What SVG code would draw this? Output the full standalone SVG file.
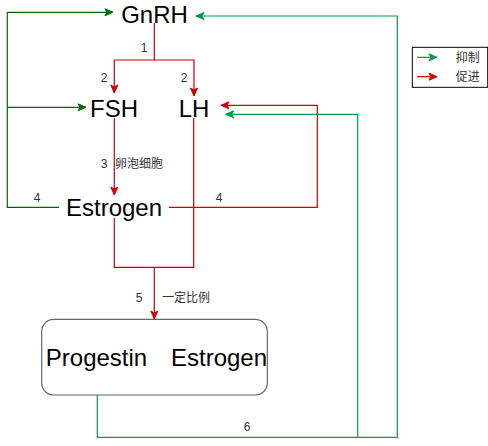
<svg xmlns="http://www.w3.org/2000/svg" width="488" height="446" viewBox="0 0 488 446">
<style>
.big{font-family:"Liberation Sans",Arial,sans-serif;font-size:24px;fill:#000;text-anchor:middle}
.sm{font-family:"Liberation Sans","Noto Sans CJK SC",sans-serif;font-size:12px;fill:#333;text-anchor:middle}
.lg{font-family:"Liberation Sans","Noto Sans CJK SC",sans-serif;font-size:12px;fill:#333}
.r{fill:none;stroke:#CC0000;stroke-width:1.2}
.g{fill:none;stroke:#006600;stroke-width:1.2}
.g2{fill:none;stroke:#00994D;stroke-width:1.2}
</style>
<defs>
<marker id="ar" markerUnits="userSpaceOnUse" markerWidth="10" markerHeight="10" viewBox="0 0 10 10" refX="9" refY="5" orient="auto"><path d="M1,1.5 L9,5 L1,8.5 L3,5 Z" fill="#CC0000" stroke="#CC0000"/></marker>
<marker id="ag" markerUnits="userSpaceOnUse" markerWidth="10" markerHeight="10" viewBox="0 0 10 10" refX="9" refY="5" orient="auto"><path d="M1,1.5 L9,5 L1,8.5 L3,5 Z" fill="#006600" stroke="#006600"/></marker>
<marker id="ag2" markerUnits="userSpaceOnUse" markerWidth="10" markerHeight="10" viewBox="0 0 10 10" refX="9" refY="5" orient="auto"><path d="M1,1.5 L9,5 L1,8.5 L3,5 Z" fill="#00994D" stroke="#00994D"/></marker>
</defs>
<g id="connectors">
<path class="r" d="M154.3,23 V60 H114.3 V93" marker-end="url(#ar)"/>
<path class="r" d="M154.3,60 H194 V96" marker-end="url(#ar)"/>
<path class="r" d="M114.3,118 V195" marker-end="url(#ar)"/>
<path class="r" d="M169,207.3 H317.3 V105.3 H221" marker-end="url(#ar)"/>
<path class="r" d="M114.3,218 V267.3 H193.7 V118"/>
<path class="r" d="M154.3,267.3 V319" marker-end="url(#ar)"/>
<path class="g" d="M59,207.3 H7.3 V12.3 H113" marker-end="url(#ag)"/>
<path class="g" d="M7.3,107.3 H86" marker-end="url(#ag)"/>
<path class="g2" d="M97.3,366.7 V437.3 H397.3 V16 H196" marker-end="url(#ag2)"/>
<path class="g2" d="M357.7,437.3 V114.3 H225.7" marker-end="url(#ag2)"/>
</g>
<g id="labels">
<text class="sm" x="144" y="52">1</text>
<text class="sm" x="104" y="82">2</text>
<text class="sm" x="184" y="82">2</text>
<text class="sm" x="104" y="168">3</text>
<text class="sm" x="139" y="168">卵泡细胞</text>
<text class="sm" x="37" y="202">4</text>
<text class="sm" x="219" y="202">4</text>
<text class="sm" x="139" y="302">5</text>
<text class="sm" x="186" y="302">一定比例</text>
<text class="sm" x="247" y="431">6</text>
</g>
<g id="GnRH"><text class="big" x="154.5" y="23">GnRH</text></g>
<g id="FSH"><text class="big" x="114" y="117">FSH</text></g>
<g id="LH"><text class="big" x="194" y="117">LH</text></g>
<g id="Estrogen"><text class="big" x="114" y="216">Estrogen</text></g>
<g id="hormones">
<rect x="41.7" y="319.3" width="225.6" height="75.7" rx="12" ry="12" fill="#fff" stroke="#666" stroke-width="1.2"/>
<text class="big" x="96.5" y="366">Progestin</text>
<text class="big" x="219" y="366">Estrogen</text>
</g>
<g id="legend">
<rect x="412.3" y="47.3" width="75.4" height="40" fill="#fff" stroke="#000" stroke-width="1"/>
<path class="g2" d="M417,57.3 H437" marker-end="url(#ag2)"/>
<path class="r" d="M417,76.7 H437" marker-end="url(#ar)"/>
<text class="lg" x="455.7" y="61.5">抑制</text>
<text class="lg" x="455.7" y="81">促进</text>
</g>
</svg>
